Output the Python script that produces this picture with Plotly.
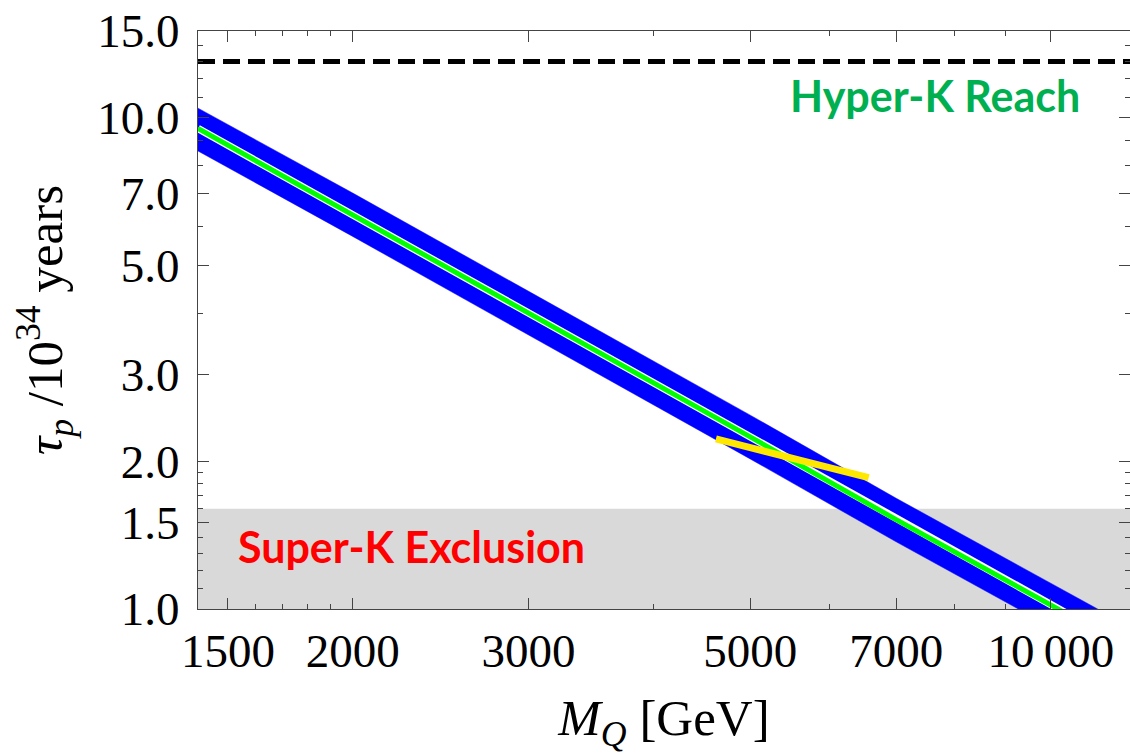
import numpy as np
import plotly.graph_objects as go

# ---- data ----
mass_gev = [1400, 2000, 3000, 5000, 7000, 10000, 12000]
tau_central = [9.50, 6.34, 4.00, 2.24, 1.52, 1.02, 0.83]
tau_upper = [10.45, 7.02, 4.43, 2.48, 1.68, 1.13, 0.92]
tau_lower = [8.55, 5.73, 3.61, 2.02, 1.37, 0.92, 0.75]

yellow_mass = [4620, 6570]
yellow_tau = [2.22, 1.85]

hyperk_reach = 13.0
superk_limit = 1.6

x_range = [1400, 12000]
y_range = [1.0, 15.0]

x_tickvals = [1500, 2000, 3000, 5000, 7000, 10000]
x_ticktext = ["1500", "2000", "3000", "5000", "7000", "10\u2009000"]
x_minor = [1600, 1700, 1800, 1900, 4000, 6000, 8000, 9000]

y_tickvals = [1.0, 1.5, 2.0, 3.0, 5.0, 7.0, 10.0, 15.0]
y_ticktext = ["1.0", "1.5", "2.0", "3.0", "5.0", "7.0", "10.0", "15.0"]
y_minor = [1.1, 1.2, 1.3, 1.4, 1.6, 1.7, 1.8, 1.9, 4, 6, 8, 9, 11, 12, 13, 14]

SERIF = "Liberation Serif, Times New Roman, serif"

fig = go.Figure()

# Super-K exclusion region
fig.add_trace(go.Scatter(
    x=[x_range[0], x_range[1], x_range[1], x_range[0], x_range[0]],
    y=[y_range[0], y_range[0], superk_limit, superk_limit, y_range[0]],
    fill="toself", fillcolor="#d9d9d9", mode="none",
    hoverinfo="skip", showlegend=False))

# Blue uncertainty band
fig.add_trace(go.Scatter(x=mass_gev, y=tau_upper, mode="lines",
                         line=dict(color="#0000ff", width=0.5),
                         showlegend=False, hoverinfo="skip"))
fig.add_trace(go.Scatter(x=mass_gev, y=tau_lower, mode="lines",
                         line=dict(color="#0000ff", width=0.5),
                         fill="tonexty", fillcolor="#0000ff",
                         showlegend=False, hoverinfo="skip"))

# Central green line with white outline
fig.add_trace(go.Scatter(x=mass_gev, y=tau_central, mode="lines",
                         line=dict(color="white", width=7.5),
                         showlegend=False, hoverinfo="skip"))
fig.add_trace(go.Scatter(x=mass_gev, y=tau_central, mode="lines",
                         line=dict(color="#00ff00", width=5),
                         showlegend=False))

# Yellow segment
fig.add_trace(go.Scatter(x=yellow_mass, y=yellow_tau, mode="lines",
                         line=dict(color="#ffe800", width=7),
                         showlegend=False))

# Hyper-K reach dashed line
fig.add_trace(go.Scatter(x=x_range, y=[hyperk_reach, hyperk_reach], mode="lines",
                         line=dict(color="black", width=5, dash="17px,8px"),
                         showlegend=False))

axis_common = dict(
    showline=True, linecolor="#444", linewidth=1.2, mirror="ticks",
    ticks="inside", tickcolor="#444", tickwidth=1.2, ticklen=11,
    showgrid=False, zeroline=False,
    tickfont=dict(family=SERIF, size=47, color="black"),
)

fig.update_xaxes(
    type="log", range=[np.log10(x_range[0]), np.log10(x_range[1])],
    tickmode="array", tickvals=x_tickvals, ticktext=x_ticktext,
    minor=dict(tickmode="array", tickvals=x_minor, ticks="inside", ticklen=5,
               tickcolor="#444", tickwidth=1.2),
    title=dict(text="<i>M</i><sub><i>Q</i></sub> [GeV]", standoff=32,
               font=dict(family=SERIF, size=51, color="black")),
    **axis_common)

fig.update_yaxes(
    type="log", range=[np.log10(y_range[0]), np.log10(y_range[1])],
    tickmode="array", tickvals=y_tickvals, ticktext=y_ticktext,
    minor=dict(tickmode="array", tickvals=y_minor, ticks="inside", ticklen=5,
               tickcolor="#444", tickwidth=1.2),
    ticklabelstandoff=8,
    title=dict(text="<i>τ</i><sub><i>p</i></sub> /10<sup>34</sup> years", standoff=18,
               font=dict(family=SERIF, size=51, color="black")),
    **axis_common)

fig.add_annotation(text="<b>Hyper-K Reach</b>", xref="paper", yref="paper",
                   x=0.7908, y=0.889, xanchor="center", yanchor="middle", showarrow=False,
                   font=dict(family="Lato, Open Sans, sans-serif", size=43, color="#00b050"))
fig.add_annotation(text="<b>Super-K Exclusion</b>", xref="paper", yref="paper",
                   x=0.2296, y=0.108, xanchor="center", yanchor="middle", showarrow=False,
                   font=dict(family="Lato, Open Sans, sans-serif", size=43, color="#ff0000"))

fig.update_layout(
    width=1130, height=754,
    margin=dict(l=198, r=0, t=31, b=145),
    paper_bgcolor="white", plot_bgcolor="white",
    showlegend=False,
)

fig.write_html("out.html")
